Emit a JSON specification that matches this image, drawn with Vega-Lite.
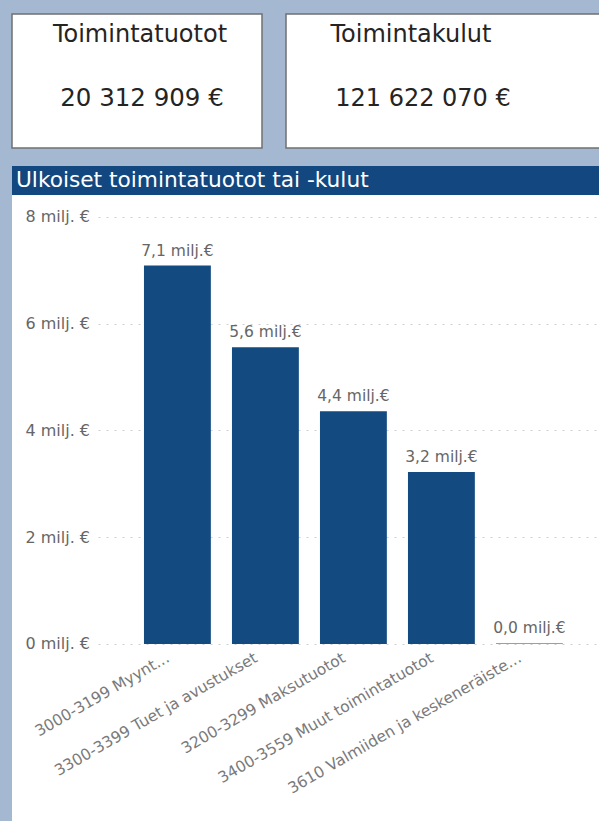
{
  "$schema": "https://vega.github.io/schema/vega-lite/v6.json",
  "background": "#a5b8d1",
  "padding": {"left": 11, "top": 13, "right": 0, "bottom": 0},
  "config": {"view": {"stroke": null}, "font": "DejaVu Sans"},
  "spacing": 17,
  "vconcat": [
    {
      "spacing": 22,
      "hconcat": [
        {
          "width": 250,
          "height": 134,
          "view": {"fill": "white", "stroke": "#707070", "strokeWidth": 1.5},
          "data": {"values": [{"otsikko": "Toimintatuotot", "summa": "20 312 909 €"}]},
          "layer": [
            {"mark": {"type": "text", "fontSize": 24, "fill": "#252423", "dx": 3, "dy": -39, "baseline": "alphabetic"}, "encoding": {"text": {"field": "otsikko"}}},
            {"mark": {"type": "text", "fontSize": 24.5, "fill": "#252423", "dx": 5, "dy": 25, "baseline": "alphabetic"}, "encoding": {"text": {"field": "summa"}}}
          ]
        },
        {
          "width": 316,
          "height": 134,
          "view": {"fill": "white", "stroke": "#707070", "strokeWidth": 1.5},
          "data": {"values": [{"otsikko": "Toimintakulut", "summa": "121 622 070 €"}]},
          "layer": [
            {"mark": {"type": "text", "fontSize": 24, "fill": "#252423", "dx": -33, "dy": -39, "baseline": "alphabetic"}, "encoding": {"text": {"field": "otsikko"}}},
            {"mark": {"type": "text", "fontSize": 24, "fill": "#252423", "dx": -21, "dy": 25, "baseline": "alphabetic"}, "encoding": {"text": {"field": "summa"}}}
          ]
        }
      ]
    },
    {
      "spacing": 0,
      "vconcat": [
        {
          "width": 588,
          "height": 29,
          "view": {"fill": "#12487f", "stroke": null},
          "data": {"values": [{"otsikko": "Ulkoiset toimintatuotot tai -kulut"}]},
          "mark": {"type": "text", "align": "left", "baseline": "middle", "fontSize": 21.7, "fill": "white", "dy": -1},
          "encoding": {"text": {"field": "otsikko"}, "x": {"value": 4}}
        },
        {
          "width": 588,
          "height": 628,
          "view": {"fill": "white", "stroke": null},
          "data": {"values": [
            {"tili": "3000-3199 Myynt...", "arvo": 7.09, "teksti": "7,1 milj.€"},
            {"tili": "3300-3399 Tuet ja avustukset", "arvo": 5.56, "teksti": "5,6 milj.€"},
            {"tili": "3200-3299 Maksutuotot", "arvo": 4.36, "teksti": "4,4 milj.€"},
            {"tili": "3400-3559 Muut toimintatuotot", "arvo": 3.22, "teksti": "3,2 milj.€"},
            {"tili": "3610 Valmiiden ja keskeneräiste...", "arvo": 0.01, "teksti": "0,0 milj.€"}
          ]},
          "encoding": {
            "x": {
              "field": "tili", "type": "nominal", "sort": null,
              "scale": {"range": [86, 588], "paddingInner": 0.24, "paddingOuter": 0.4723, "align": 0.553},
              "axis": {"title": null, "grid": false, "domain": false, "ticks": false, "offset": -179, "labelAngle": -30, "labelAlign": "right", "labelBaseline": "top", "labelPadding": 6, "labelOffset": -13, "labelFontSize": 15.5, "labelColor": "#7a7a7a", "labelLimit": 500}
            },
            "y": {
              "field": "arvo", "type": "quantitative",
              "scale": {"domain": [-3.354, 8.412], "nice": false, "zero": false},
              "axis": {"title": null, "values": [0, 2, 4, 6, 8], "labelExpr": "datum.value + ' milj. €'", "domain": false, "ticks": false, "tickSize": 0, "labelAlign": "left", "labelBaseline": "middle", "labelPadding": -13, "labelFontSize": 16, "labelColor": "#666666", "grid": true, "gridColor": "#cfcfcf", "gridDash": [2, 6], "gridWidth": 1}
            }
          },
          "layer": [
            {"mark": {"type": "bar", "color": "#134a80"}},
            {"mark": {"type": "text", "dy": -10, "baseline": "alphabetic", "fontSize": 15.5, "fill": "#666666"}, "encoding": {"text": {"field": "teksti"}}}
          ]
        }
      ]
    }
  ]
}
